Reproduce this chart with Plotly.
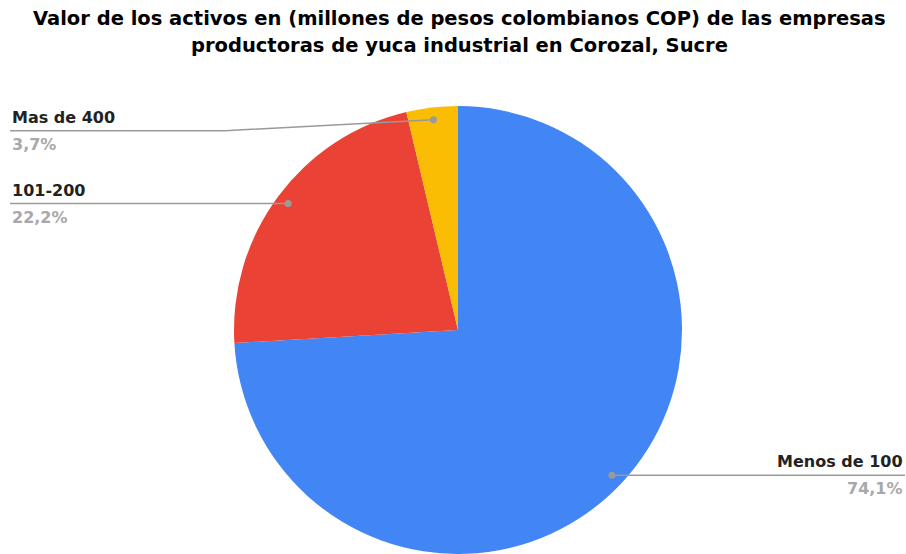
import math
import plotly.graph_objects as go

categories = ["Menos de 100", "101-200", "Mas de 400"]
values = [20, 6, 1]
colors = ["#4285F4", "#EA4335", "#FBBC04"]
title_lines = ["Valor de los activos en (millones de pesos colombianos COP) de las empresas",
               "productoras de yuca industrial en Corozal, Sucre"]

W, H = 906, 554
CX, CY, R = 458, 330, 224
FONT = "DejaVu Sans"

fig = go.Figure(go.Pie(
    labels=categories, values=values, sort=False, direction="clockwise", rotation=0,
    marker=dict(colors=colors, line=dict(width=0)),
    textinfo="none", hoverinfo="label+percent", showlegend=False,
    domain=dict(x=[(CX - R) / W, (CX + R) / W], y=[(H - CY - R) / H, (H - CY + R) / H]),
))

def px(x):
    return x / W

def py(y):
    return 1 - y / H

total = sum(values)
shapes, annotations = [], []
cum = 0
side = {"Menos de 100": "right", "101-200": "left", "Mas de 400": "left"}
yoff = {"Menos de 100": 0, "101-200": 0, "Mas de 400": 11}
for lab, v in zip(categories, values):
    mid = (cum + v / 2) / total * 2 * math.pi
    cum += v
    dx = 0.945 * R * math.sin(mid)
    dy = -0.945 * R * math.cos(mid)
    dotx, doty = CX + dx, CY + dy
    ly = doty + yoff[lab]
    if side[lab] == "left":
        x_end, xanchor = 10, "left"
        bend = 225 if yoff[lab] else dotx
    else:
        x_end, xanchor = 905, "right"
        bend = dotx
    path = f"M {px(dotx)} {py(doty)} L {px(bend)} {py(ly)} L {px(x_end)} {py(ly)}"
    shapes.append(dict(type="path", xref="paper", yref="paper", path=path,
                       line=dict(color="#9a9a9a", width=1.5)))
    shapes.append(dict(type="circle", xref="paper", yref="paper",
                       x0=px(dotx - 3.5), x1=px(dotx + 3.5), y0=py(doty + 3.5), y1=py(doty - 3.5),
                       fillcolor="#9a9a9a", line=dict(width=0)))
    pct = f"{v / total * 100:.1f}".replace(".", ",") + "%"
    annotations.append(dict(x=px(x_end), y=py(ly - 2), xref="paper", yref="paper",
                            text=f"<b>{lab}</b>", showarrow=False, xanchor=xanchor, yanchor="bottom",
                            font=dict(family=FONT, size=16, color="#222222")))
    annotations.append(dict(x=px(x_end), y=py(ly + 2), xref="paper", yref="paper",
                            text=f"<b>{pct}</b>", showarrow=False, xanchor=xanchor, yanchor="top",
                            font=dict(family=FONT, size=16, color="#a8a8a8")))

for i, line in enumerate(title_lines):
    annotations.append(dict(x=px(459), y=py(32 + 27 * i), xref="paper", yref="paper",
                            text=f"<b>{line}</b>", showarrow=False, xanchor="center", yanchor="bottom",
                            font=dict(family=FONT, size=19.5, color="#000000")))

fig.update_layout(
    width=W, height=H, margin=dict(l=0, r=0, t=0, b=0),
    paper_bgcolor="white", plot_bgcolor="white",
    shapes=shapes, annotations=annotations,
)

fig.write_html("out.html", config={"displayModeBar": False},
               post_script="document.body.style.margin='0';")
